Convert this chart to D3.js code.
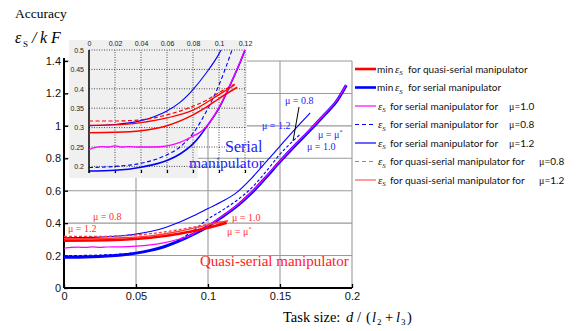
<!DOCTYPE html>
<html>
<head>
<meta charset="utf-8">
<script src="https://cdn.jsdelivr.net/npm/d3@7"></script>
<style>
body{margin:0;background:#fff}
svg{display:block}
</style>
</head>
<body>
<svg width="578" height="331"></svg>
<script>
// main chart: task size d/(l2+l3) -> accuracy eps_S / kF
const xTicks = [0, 0.05, 0.1, 0.15, 0.2];
const yTicks = [0, 0.2, 0.4, 0.6, 0.8, 1, 1.2, 1.4];

const serialMin = [[0,0.19],[0.01,0.19],[0.02,0.192],[0.03,0.197],[0.04,0.204],[0.05,0.215],[0.06,0.232],[0.07,0.256],[0.08,0.29],[0.09,0.332],[0.1,0.38],[0.11,0.44],[0.12,0.505],[0.13,0.585],[0.14,0.68],[0.15,0.78],[0.16,0.875],[0.17,0.965],[0.18,1.06],[0.19,1.16],[0.196,1.25]];
const serialMu10 = [[0,0.245],[0.005,0.25],[0.01,0.252],[0.015,0.25],[0.02,0.254],[0.025,0.251],[0.03,0.253],[0.04,0.254],[0.05,0.258],[0.06,0.266],[0.07,0.28],[0.08,0.302],[0.088,0.325],[0.09,0.336],[0.1,0.384],[0.11,0.444],[0.12,0.509],[0.13,0.589],[0.14,0.684],[0.15,0.784],[0.16,0.879],[0.17,0.969],[0.18,1.064],[0.19,1.164],[0.196,1.254]];
const serialMu08 = [[0,0.2],[0.02,0.202],[0.04,0.21],[0.05,0.218],[0.06,0.232],[0.07,0.258],[0.08,0.298],[0.09,0.355],[0.1,0.425],[0.11,0.48],[0.12,0.54],[0.13,0.615],[0.14,0.715],[0.15,0.825],[0.16,0.915],[0.164,0.948]];
const serialMu12 = [[0,0.31],[0.02,0.312],[0.04,0.322],[0.05,0.332],[0.06,0.348],[0.07,0.372],[0.08,0.405],[0.09,0.445],[0.1,0.49],[0.11,0.535],[0.12,0.59],[0.13,0.675],[0.14,0.775],[0.15,0.875],[0.16,0.975],[0.171,1.08]];
const quasiMin = [[0,0.292],[0.02,0.293],[0.04,0.298],[0.06,0.31],[0.08,0.335],[0.1,0.372],[0.113,0.403]];
const quasiMu08 = [[0,0.318],[0.02,0.318],[0.04,0.322],[0.06,0.335],[0.08,0.36],[0.1,0.393],[0.11,0.41]];
const quasiMu12 = [[0,0.305],[0.02,0.306],[0.04,0.31],[0.06,0.322],[0.08,0.35],[0.1,0.39],[0.114,0.415]];

// inset (zoomed view)
const insetXTicks = [0, 0.02, 0.04, 0.06, 0.08, 0.1, 0.12];
const insetYTicks = [0.2, 0.25, 0.3, 0.35, 0.4, 0.45, 0.5];

const inSerialMin = [[0,0.188],[0.02,0.19],[0.04,0.198],[0.06,0.215],[0.07,0.232],[0.08,0.258],[0.085,0.277],[0.09,0.3],[0.1,0.35],[0.11,0.42],[0.12,0.5],[0.125,0.55]];
const inSerialMu10 = [[0,0.243],[0.005,0.249],[0.01,0.251],[0.015,0.25],[0.02,0.253],[0.025,0.25],[0.03,0.251],[0.04,0.25],[0.05,0.25],[0.06,0.253],[0.07,0.262],[0.08,0.278],[0.085,0.287],[0.09,0.302],[0.1,0.352],[0.11,0.422],[0.12,0.502],[0.125,0.552]];
const inSerialMu08 = [[0,0.197],[0.02,0.2],[0.04,0.208],[0.06,0.23],[0.07,0.25],[0.08,0.285],[0.09,0.34],[0.1,0.41],[0.11,0.5],[0.115,0.55]];
const inSerialMu12 = [[0,0.305],[0.02,0.308],[0.04,0.318],[0.05,0.328],[0.06,0.343],[0.07,0.365],[0.08,0.398],[0.09,0.44],[0.1,0.49],[0.106,0.53]];
const inQuasiMin = [[0,0.287],[0.02,0.288],[0.04,0.292],[0.06,0.305],[0.08,0.333],[0.09,0.352],[0.1,0.375],[0.114,0.404]];
const inQuasiMu08 = [[0,0.317],[0.02,0.317],[0.04,0.32],[0.06,0.333],[0.08,0.355],[0.09,0.37],[0.1,0.39],[0.112,0.412]];
const inQuasiMu12 = [[0,0.306],[0.02,0.307],[0.04,0.313],[0.06,0.325],[0.08,0.345],[0.1,0.385],[0.112,0.41]];

const legendText = ["for quasi-serial manipulator", "for serial manipulator", "for serial manipulator for", "for serial manipulator for", "for serial manipulator for", "for quasi-serial manipulator for", "for quasi-serial manipulator for"];
const legendMu = [null, null, "1.0", "0.8", "1.2", "0.8", "1.2"];

const RED = '#ff0000', LRED = '#ff3b3b', BLUE = '#0000ff', MAG = '#ff00ff';

const svg = d3.select('svg');

const x = d3.scaleLinear().domain([0, 0.2]).range([64, 352]);
const y = d3.scaleLinear().domain([0, 1.4]).range([288, 61]);

// grid + frame
const grid = svg.append('g').attr('stroke', '#9a9a9a').attr('stroke-width', 1.1);
grid.selectAll('.vx').data(xTicks.slice(1)).enter().append('line')
    .attr('x1', d => x(d)).attr('x2', d => x(d))
    .attr('y1', y(0)).attr('y2', y(1.4));
grid.selectAll('.hy').data(yTicks.slice(1)).enter().append('line')
    .attr('x1', x(0)).attr('x2', x(0.2))
    .attr('y1', d => y(d)).attr('y2', d => y(d));

// axes
const yAxis = d3.axisLeft(y).tickValues(yTicks).tickSize(-4).tickPadding(3).tickFormat(d => d);
const gy = svg.append('g').attr('transform', `translate(${x(0)},0)`).call(yAxis);
const xAxis = d3.axisBottom(x).tickValues(xTicks).tickSize(-4).tickPadding(4).tickFormat(d => d);
const gx = svg.append('g').attr('transform', `translate(0,${y(0)})`).call(xAxis);
[gx, gy].forEach(g => {
    g.select('.domain').remove();
    g.selectAll('text').attr('font-family', 'Liberation Sans, Arial').attr('font-size', 11).attr('fill', '#111');
    g.selectAll('line').attr('stroke', '#000').attr('stroke-width', 1.3);
});
svg.append('line').attr('x1', x(0)).attr('x2', x(0)).attr('y1', y(0)).attr('y2', y(1.4) - 3)
    .attr('stroke', '#000').attr('stroke-width', 2);
svg.append('line').attr('x1', x(0)).attr('x2', x(0.2)).attr('y1', y(0)).attr('y2', y(0))
    .attr('stroke', '#000').attr('stroke-width', 2);

function draw(g, data, xs, ys, color, w, dash) {
    const line = d3.line().x(d => xs(d[0])).y(d => ys(d[1])).curve(d3.curveMonotoneX);
    g.append('path').datum(data)
        .attr('d', line)
        .attr('fill', 'none')
        .attr('stroke', color)
        .attr('stroke-width', w)
        .attr('stroke-dasharray', dash || null);
}

const main = svg.append('g');
draw(main, serialMu12, x, y, BLUE, 1.1);
draw(main, serialMu08, x, y, BLUE, 1.1, '3,2');
draw(main, serialMin, x, y, BLUE, 3);
draw(main, serialMu10, x, y, MAG, 1.2);
draw(main, quasiMu12, x, y, LRED, 1.3);
draw(main, quasiMu08, x, y, LRED, 1.3, '3,2');
draw(main, quasiMin, x, y, RED, 2.6);

// inset
const ix = d3.scaleLinear().domain([0, 0.12]).range([89, 245]);
const iy = d3.scaleLinear().domain([0.183, 0.5]).range([173, 50]);
const inset = svg.append('g');
inset.append('path')
    .attr('d', 'M69,40 H247 V128 H198 V178 H69 Z')
    .attr('fill', '#f0f0f0');
const ig = inset.append('g').attr('stroke', '#222').attr('stroke-width', 0.8).attr('stroke-dasharray', '1,1.5');
ig.selectAll('.v').data(insetXTicks.slice(1)).enter().append('line')
    .attr('x1', d => ix(d)).attr('x2', d => ix(d)).attr('y1', iy(0.183)).attr('y2', iy(0.5));
ig.selectAll('.h').data(insetYTicks).enter().append('line')
    .attr('x1', ix(0)).attr('x2', ix(0.12)).attr('y1', d => iy(d)).attr('y2', d => iy(d));

const ixAxis = d3.axisTop(ix).tickValues(insetXTicks).tickSize(0).tickPadding(4).tickFormat(d => d);
const iyAxis = d3.axisLeft(iy).tickValues(insetYTicks).tickSize(0).tickPadding(5).tickFormat(d => d);
const ibAxis = d3.axisBottom(ix).tickValues(insetXTicks).tickSize(-3).tickFormat('');
const gix = inset.append('g').attr('transform', `translate(0,${iy(0.5)})`).call(ixAxis);
const giy = inset.append('g').attr('transform', `translate(${ix(0)},0)`).call(iyAxis);
const gib = inset.append('g').attr('transform', `translate(0,${iy(0.183)})`).call(ibAxis);
[gix, giy, gib].forEach(g => {
    g.select('.domain').remove();
    g.selectAll('text').attr('font-family', 'Liberation Sans, Arial').attr('font-size', 7).attr('fill', '#222');
    g.selectAll('line').attr('stroke', '#000').attr('stroke-width', 1.2);
});
inset.append('line').attr('x1', ix(0)).attr('x2', ix(0)).attr('y1', iy(0.183)).attr('y2', iy(0.5))
    .attr('stroke', '#000').attr('stroke-width', 1.5);

svg.append('clipPath').attr('id', 'iclip').append('rect')
    .attr('x', ix(0)).attr('y', iy(0.5)).attr('width', ix(0.12) - ix(0) + 1).attr('height', iy(0.183) - iy(0.5));
const ic = inset.append('g').attr('clip-path', 'url(#iclip)');
draw(ic, inSerialMu12, ix, iy, BLUE, 1.1);
draw(ic, inSerialMu08, ix, iy, BLUE, 1.1, '4,2.5');
draw(ic, inSerialMin, ix, iy, BLUE, 1.6);
draw(ic, inSerialMu10, ix, iy, MAG, 1.3);
draw(ic, inQuasiMu12, ix, iy, RED, 1.2);
draw(ic, inQuasiMu08, ix, iy, RED, 1.2, '4,2.5');
draw(ic, inQuasiMin, ix, iy, RED, 1.5);

// axis titles
const serif = 'Liberation Serif, Times New Roman, serif';
svg.append('text').attr('x', 15).attr('y', 18).attr('font-family', serif).attr('font-size', 13.5).text('Accuracy');
const yl = svg.append('text').attr('y', 43).attr('font-family', serif).attr('font-size', 16).attr('font-style', 'italic');
yl.append('tspan').attr('x', 15).text('ε');
yl.append('tspan').attr('x', 23).attr('dy', 4).attr('font-size', 9).attr('font-style', 'normal').text('S');
yl.append('tspan').attr('x', 32).attr('dy', -4).text('/');
yl.append('tspan').attr('x', 40).text('k');
yl.append('tspan').attr('x', 51).text('F');

const xl = svg.append('text').attr('y', 322).attr('font-family', serif).attr('font-size', 14.5);
xl.append('tspan').attr('x', 283).text('Task size:');
xl.append('tspan').attr('x', 346).attr('font-style', 'italic').text('d');
xl.append('tspan').attr('x', 357).text('/');
xl.append('tspan').attr('x', 366).text('(');
xl.append('tspan').attr('x', 372).attr('font-style', 'italic').text('l');
xl.append('tspan').attr('x', 377).attr('dy', 3).attr('font-size', 9).text('2');
xl.append('tspan').attr('x', 385).attr('dy', -3).text('+');
xl.append('tspan').attr('x', 396).attr('font-style', 'italic').text('l');
xl.append('tspan').attr('x', 401).attr('dy', 3).attr('font-size', 9).text('3');
xl.append('tspan').attr('x', 407).attr('dy', -3).text(')');

// in-plot annotations
svg.append('text').attr('x', 225).attr('y', 152).attr('font-family', serif).attr('font-size', 16).attr('fill', '#2222ff').text('Serial');
svg.append('text').attr('x', 189).attr('y', 167.5).attr('font-family', serif).attr('font-size', 15.5).attr('fill', '#2222ff').text('manipulator');
svg.append('text').attr('x', 200).attr('y', 266).attr('font-family', serif).attr('font-size', 15).attr('fill', '#ff2020').text('Quasi-serial manipulator');

function muLabel(px, py, val, color, star) {
    const t = svg.append('text').attr('x', px).attr('y', py).attr('font-family', serif).attr('font-size', 10).attr('fill', color);
    t.append('tspan').text('μ = ' + val);
    if (star) t.append('tspan').attr('dy', -4).attr('font-size', 6).text('*');
}
muLabel(93, 220, '0.8', '#ff3030');
muLabel(68, 232, '1.2', '#ff3030');
muLabel(232, 221, '1.0', '#ff3030');
muLabel(227, 235, 'μ', '#ff3030', true);
muLabel(285, 104, '0.8', '#2222ff');
muLabel(262, 129, '1.2', '#2222ff');
muLabel(318, 138, 'μ', '#2222ff', true);
muLabel(307, 150, '1.0', '#2222ff');
svg.append('line').attr('x1', 299).attr('y1', 107).attr('x2', 293).attr('y2', 141).attr('stroke', '#000').attr('stroke-width', 1);

// legend
const legendStyle = [
    {c: RED, w: 2.6}, {c: BLUE, w: 2.6}, {c: MAG, w: 1.2}, {c: BLUE, w: 1.2, d: '4,3'},
    {c: BLUE, w: 1.2}, {c: '#ff5a5a', w: 1.2, d: '4,3'}, {c: '#ff5a5a', w: 1.2}
];
const lg = svg.append('g').attr('font-family', 'Lato, sans-serif').attr('font-size', 10).attr('fill', '#111');
legendText.forEach((txt, i) => {
    const ry = 69 + i * 18.5;
    const st = legendStyle[i];
    lg.append('line').attr('x1', 355).attr('x2', 376).attr('y1', ry).attr('y2', ry)
        .attr('stroke', st.c).attr('stroke-width', st.w).attr('stroke-dasharray', st.d || null);
    const base = ry + 3.5;
    let ex = 378;
    if (i < 2) {
        lg.append('text').attr('x', 377).attr('y', base).text('min');
        ex = 395;
    }
    const e = lg.append('text').attr('x', ex).attr('y', base).attr('font-family', serif).attr('font-style', 'italic').attr('font-size', 11);
    e.append('tspan').text('ε');
    e.append('tspan').attr('dy', 2.5).attr('font-size', 7).text('S');
    lg.append('text').attr('x', ex + (i < 2 ? 13 : 12)).attr('y', base).text(txt);
    if (legendMu[i]) {
        const mx = i < 5 ? 509 : 539;
        lg.append('text').attr('x', mx).attr('y', base).attr('font-family', serif).attr('font-size', 10).text('μ');
        lg.append('text').attr('x', mx + 5.5).attr('y', base).text('=' + legendMu[i]);
    }
});
</script>
</body>
</html>
